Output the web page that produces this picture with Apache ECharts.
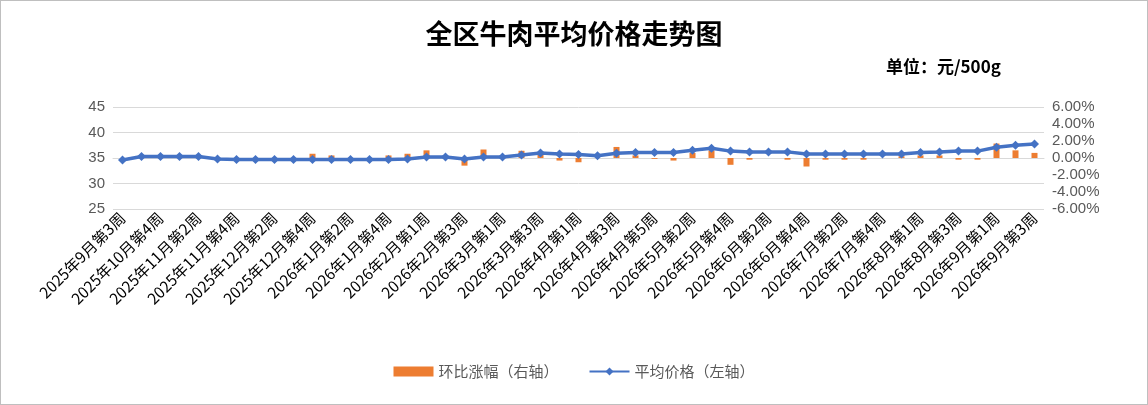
<!DOCTYPE html><html><head><meta charset="utf-8">
<script src="https://cdn.jsdelivr.net/npm/echarts@6/dist/echarts.min.js"></script>
<style>html,body{margin:0;padding:0;background:#fff}#c{width:1148px;height:405px;box-sizing:border-box;border:1px solid #bfbfbf}</style>
</head><body><div id="c"></div><script>
const categories=["2025年9月第3周","2025年10月第2周","2025年10月第4周","2025年11月第1周","2025年11月第2周","2025年11月第3周","2025年11月第4周","2025年12月第1周","2025年12月第2周","2025年12月第3周","2025年12月第4周","2026年1月第1周","2026年1月第2周","2026年1月第3周","2026年1月第4周","2026年1月第5周","2026年2月第1周","2026年2月第2周","2026年2月第3周","2026年2月第4周","2026年3月第1周","2026年3月第2周","2026年3月第3周","2026年3月第4周","2026年4月第1周","2026年4月第2周","2026年4月第3周","2026年4月第4周","2026年4月第5周","2026年5月第1周","2026年5月第2周","2026年5月第3周","2026年5月第4周","2026年6月第1周","2026年6月第2周","2026年6月第3周","2026年6月第4周","2026年7月第1周","2026年7月第2周","2026年7月第3周","2026年7月第4周","2026年7月第5周","2026年8月第1周","2026年8月第2周","2026年8月第3周","2026年8月第4周","2026年9月第1周","2026年9月第2周","2026年9月第3周"];
const avgPrice=[34.6,35.3,35.3,35.3,35.3,34.8,34.7,34.7,34.7,34.7,34.7,34.7,34.7,34.7,34.7,34.8,35.2,35.2,34.8,35.2,35.2,35.6,36.0,35.8,35.7,35.45,35.95,36.1,36.1,36.1,36.5,36.9,36.35,36.2,36.2,36.2,35.8,35.8,35.8,35.8,35.8,35.8,36.1,36.2,36.35,36.35,37.1,37.5,37.75];
const changePct=[0,0.2,0,0,0,-0.2,0,0,0,0,0.5,0.3,0,0,0.3,0.5,0.9,0,-0.9,1.0,0,0.85,0.6,-0.3,-0.5,0,1.3,0.3,-0.1,-0.3,0.6,0.9,-0.8,-0.2,0,-0.2,-1.0,-0.2,-0.2,-0.2,0,0.2,0.3,0.3,-0.2,-0.2,1.7,0.9,0.6];
const leftTicks=[25,45,5], rightTicks=[-6,6,2];
const ch=echarts.init(document.getElementById('c'));
const ax={color:'#595959',fontSize:15,fontFamily:'Liberation Sans'};
ch.setOption({
 animation:false,
 title:[{text:'全区牛肉平均价格走势图',left:'center',top:14,textStyle:{fontFamily:'Noto Sans CJK SC',fontWeight:'bold',fontSize:27,color:'#000'}},
  {text:'单位：元/500g',left:880,top:52,textStyle:{fontFamily:'Noto Sans CJK SC',fontWeight:'bold',fontSize:17,color:'#000'}}],
 legend:{bottom:20,left:'center',itemGap:30,textStyle:{color:'#595959',fontSize:15,fontFamily:'Noto Sans CJK SC'},
  data:[{name:'环比涨幅（右轴）',icon:'rect'},{name:'平均价格（左轴）'}],itemWidth:40,itemHeight:10},
 grid:{left:112,right:103,top:106,bottom:195},
 xAxis:{type:'category',data:categories,boundaryGap:true,axisTick:{show:false},axisLine:{lineStyle:{color:'#d9d9d9'}},
  axisLabel:{rotate:45,interval:1,color:'#000',fontSize:15.5,fontFamily:'Noto Sans CJK SC',margin:6}},
 yAxis:[{type:'value',min:leftTicks[0],max:leftTicks[1],interval:leftTicks[2],axisLabel:ax,splitLine:{lineStyle:{color:'#d9d9d9'}},axisLine:{show:false}},
  {type:'value',min:rightTicks[0],max:rightTicks[1],interval:rightTicks[2],axisLabel:Object.assign({formatter:v=>v.toFixed(2)+'%'},ax),splitLine:{show:false},axisLine:{show:false}}],
 series:[{name:'环比涨幅（右轴）',type:'bar',yAxisIndex:1,data:changePct,barWidth:6,itemStyle:{color:'#ed7d31'}},
  {name:'平均价格（左轴）',type:'line',data:avgPrice,symbol:'diamond',symbolSize:9,lineStyle:{color:'#4472c4',width:3.5},itemStyle:{color:'#4472c4'}}]
});
</script></body></html>
